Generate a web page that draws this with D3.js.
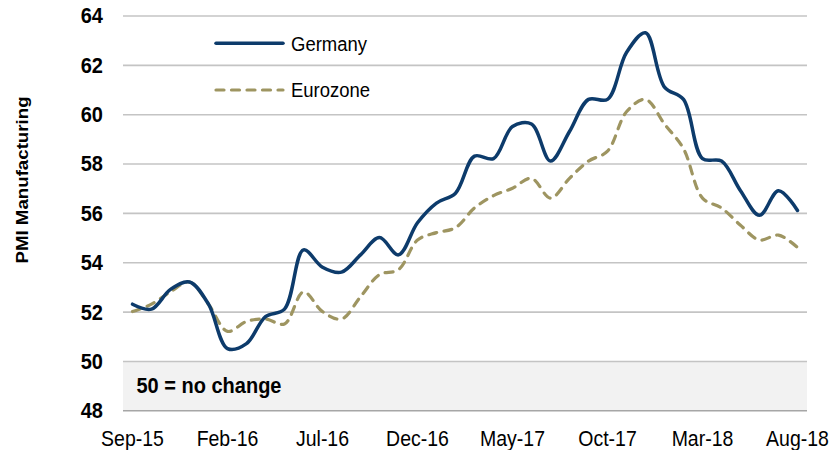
<!DOCTYPE html>
<html>
<head>
<meta charset="utf-8">
<script src="https://cdn.jsdelivr.net/npm/d3@7"></script>
<style>
  html, body { margin: 0; padding: 0; background: #fff; }
  svg { display: block; }
  text { font-family: "Liberation Sans", Arial, sans-serif; fill: #000; }
</style>
</head>
<body>
<svg id="chart" width="832" height="450"></svg>
<script>
const months = ["Sep-15","Oct-15","Nov-15","Dec-15","Jan-16","Feb-16","Mar-16","Apr-16","May-16","Jun-16","Jul-16","Aug-16",
  "Sep-16","Oct-16","Nov-16","Dec-16","Jan-17","Feb-17","Mar-17","Apr-17","May-17","Jun-17","Jul-17","Aug-17",
  "Sep-17","Oct-17","Nov-17","Dec-17","Jan-18","Feb-18","Mar-18","Apr-18","May-18","Jun-18","Jul-18","Aug-18"];
const germany = [52.3,52.1,52.9,53.2,52.3,50.5,50.7,51.8,52.1,54.5,53.8,53.6,
  54.3,55.0,54.3,55.6,56.4,56.8,58.3,58.2,59.5,59.6,58.1,59.3,
  60.6,60.6,62.5,63.3,61.1,60.6,58.2,58.1,56.9,55.9,56.9,56.1];
const eurozone = [52.0,52.3,52.8,53.2,52.3,51.2,51.6,51.7,51.5,52.8,52.0,51.7,
  52.6,53.5,53.7,54.9,55.2,55.4,56.2,56.7,57.0,57.4,56.6,57.4,
  58.1,58.5,60.1,60.6,59.6,58.6,56.6,56.2,55.5,54.9,55.1,54.6];
const xTickLabels = ["Sep-15","Feb-16","Jul-16","Dec-16","May-17","Oct-17","Mar-18","Aug-18"];
const yTicks = [48,50,52,54,56,58,60,62,64];
const seriesNames = ["Germany","Eurozone"];
const yTitle = "PMI Manufacturing";
const noteText = "50 = no change";

const svg = d3.select("#chart");
const L = 123, R = 807, T = 15.5, B = 410.3;
const VS = 1.1;

const x = d3.scalePoint().domain(months).range([L, R]).padding(0.5);
const y = d3.scaleLinear().domain([48, 64]).range([B, T]);

svg.append("rect").attr("width", 832).attr("height", 450).attr("fill", "#fff");

// shaded band below 50
svg.append("rect")
  .attr("x", L).attr("width", R - L)
  .attr("y", y(50)).attr("height", y(48) - y(50))
  .attr("fill", "#f2f2f2");

// gridlines via axis
const grid = svg.append("g").attr("transform", `translate(${L},0)`)
  .call(d3.axisLeft(y).tickValues(yTicks).tickSize(-(R - L)).tickFormat(""));
grid.select(".domain").remove();
grid.selectAll(".tick line")
  .attr("stroke", d => d === 48 ? "#a6a6a6" : "#c4c4c4")
  .attr("stroke-width", 1.6);

// y tick labels
svg.append("g").selectAll("g").data(yTicks).join("g")
  .attr("transform", d => `translate(103,${y(d)}) scale(1,${VS})`)
  .append("text")
  .attr("text-anchor", "end").attr("dy", "0.36em")
  .style("font-size", "20px").style("font-weight", "bold")
  .text(d => d);

// x tick labels
svg.append("g").selectAll("g").data(xTickLabels).join("g")
  .attr("transform", d => `translate(${x(d)},446) scale(1,${VS})`)
  .append("text")
  .attr("text-anchor", "middle")
  .style("font-size", "19.5px")
  .text(d => d);

// y title
svg.append("g").attr("transform", `translate(27.5,180) rotate(-90) scale(${VS},1)`)
  .append("text").attr("text-anchor", "middle")
  .style("font-size", "17px").style("font-weight", "bold")
  .text(yTitle);

// note
svg.append("g").attr("transform", `translate(136.5,392.5) scale(1,${VS})`)
  .append("text").style("font-size", "20px").style("font-weight", "bold")
  .text(noteText);

const line = d3.line().x((d, i) => x(months[i])).y(d => y(d)).curve(d3.curveCatmullRom.alpha(0.5));

const styles = [
  { color: "#0d3b6b", width: 3.5, dash: null, cap: "round" },
  { color: "#9e9561", width: 3.2, dash: "8,7.5", cap: "round" }
];

svg.append("path").datum(eurozone)
  .attr("d", line).attr("fill", "none")
  .attr("stroke", styles[1].color).attr("stroke-width", styles[1].width)
  .attr("stroke-dasharray", styles[1].dash).attr("stroke-linecap", "round");

svg.append("path").datum(germany)
  .attr("d", line).attr("fill", "none")
  .attr("stroke", styles[0].color).attr("stroke-width", styles[0].width)
  .attr("stroke-linecap", "round").attr("stroke-linejoin", "round");

// legend
const legendY = [43.3, 90];
const lg = svg.append("g").selectAll("g").data(seriesNames).join("g")
  .attr("transform", (d, i) => `translate(0,${legendY[i]})`);
lg.append("line")
  .attr("x1", 216).attr("x2", 283).attr("y1", 0).attr("y2", 0)
  .attr("stroke", (d, i) => styles[i].color)
  .attr("stroke-width", (d, i) => styles[i].width)
  .attr("stroke-dasharray", (d, i) => styles[i].dash)
  .attr("stroke-linecap", "round");
lg.append("g").attr("transform", `translate(291,0) scale(1,${VS})`)
  .append("text").attr("dy", "0.36em")
  .style("font-size", "18.5px")
  .text(d => d);
</script>
</body>
</html>
